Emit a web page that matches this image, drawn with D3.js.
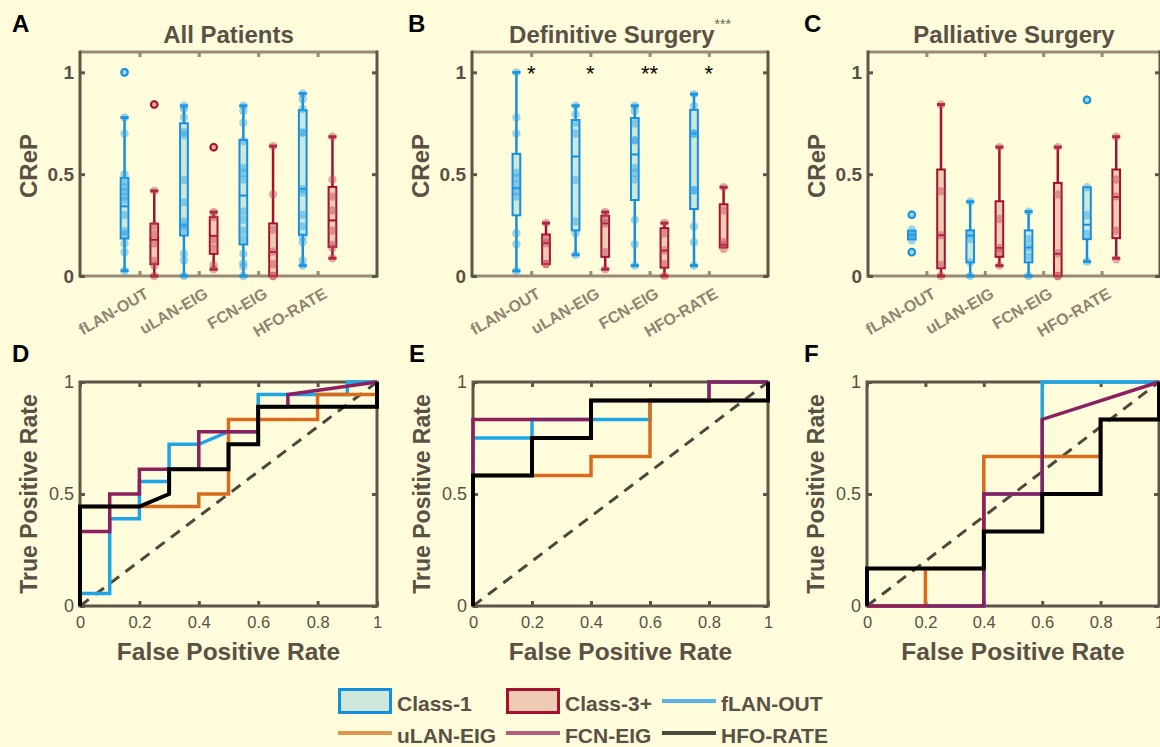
<!DOCTYPE html>
<html><head><meta charset="utf-8">
<script src="https://cdn.jsdelivr.net/npm/d3@7"></script>
<style>html,body{margin:0;padding:0;background:#fffcdb;} svg{display:block;}</style>
</head><body>
<svg id="fig" width="1160" height="747"></svg>
<script>
// ---------------- DATA ----------------
const categories = ["fLAN-OUT", "uLAN-EIG", "FCN-EIG", "HFO-RATE"];
const classes = ["Class-1", "Class-3+"];
const yTicksBox = [0, 0.5, 1];
const rocTicksX = [0, 0.2, 0.4, 0.6, 0.8, 1];
const rocTicksY = [0, 0.5, 1];

// box stats per category: [lower whisker, q1, median, q3, upper whisker]
// Panel A - All Patients
const statsA1 = [[0.026,0.184,0.342,0.482,0.778],[0,0.199,0.248,0.75,0.836],[0,0.155,0.395,0.668,0.836],[0.051,0.202,0.428,0.814,0.896]];
const statsA3 = [[0,0.058,0.178,0.257,0.418],[0.033,0.109,0.197,0.289,0.314],[0,0,0.118,0.258,0.638],[0.087,0.143,0.273,0.4375,0.684]];
const ptsA1 = [[1.0,0.778,0.70,0.50,0.465,0.436,0.416,0.39,0.37,0.30,0.22,0.205,0.16,0.117,0.026],
               [0.836,0.82,0.778,0.707,0.692,0.472,0.362,0.268,0.248,0.227,0.109,0.076,0],
               [0.836,0.81,0.753,0.663,0.531,0.507,0.474,0.317,0.276,0.222,0.181,0.109,0.063,0.046,0],
               [0.896,0.868,0.82,0.704,0.704,0.428,0.411,0.30,0.243,0.191,0.166,0.076,0.051]];
const ptsA3 = [[0.842,0.418,0.248,0.205,0.16,0.074,0.05,0],
               [0.632,0.314,0.289,0.18,0.137,0.054,0.033],
               [0.638,0.401,0.227,0.12,0.058,0,0],
               [0.684,0.474,0.39,0.322,0.222,0.153,0.137,0.087]];
const outA1 = [[1.0],[],[],[]];
const outA3 = [[0.842],[0.632],[],[]];

// Panel B - Definitive Surgery
const statsB1 = [[0.025,0.298,0.431,0.60,1.0],[0.104,0.224,0.587,0.766,0.836],[0.051,0.373,0.597,0.776,0.836],[0.051,0.329,0.70,0.816,0.893]];
const statsB3 = [[0.059,0.059,0.161,0.204,0.26],[0.033,0.094,0.258,0.296,0.314],[0,0.041,0.125,0.235,0.26],[0.14,0.14,0.153,0.352,0.436]];
const ptsB1 = [[1.0,0.778,0.70,0.507,0.482,0.447,0.416,0.39,0.21,0.156,0.025],
               [0.836,0.794,0.753,0.70,0.472,0.268,0.21,0.104],
               [0.836,0.81,0.75,0.666,0.666,0.531,0.507,0.474,0.276,0.156,0.051],
               [0.893,0.836,0.70,0.70,0.421,0.421,0.243,0.166,0.051]];
const ptsB3 = [[0.26,0.183,0.161,0.059,0.059],
               [0.314,0.285,0.258,0.118,0.033],
               [0.26,0.21,0.125,0.058,0],
               [0.436,0.322,0.166,0.153,0.132]];
const outB1 = [[],[],[],[]];
const outB3 = [[],[],[],[]];
const starsB = ["*", "*", "**", "*"];
const titleStarsB = "***";

// Panel C - Palliative Surgery
const statsC1 = [[0.180,0.180,0.201,0.222,0.222],[0,0.067,0.199,0.224,0.365],[0,0.067,0.14,0.224,0.316],[0.071,0.181,0.252,0.436,0.436]];
const statsC3 = [[0,0.038,0.20,0.523,0.842],[0.051,0.094,0.138,0.367,0.633],[0,0,0.109,0.457,0.633],[0.087,0.186,0.388,0.523,0.684]];
const ptsC1 = [[0.301,0.228,0.21,0.195,0.175,0.117],
               [0.365,0.21,0.181,0.067,0],
               [0.316,0.181,0.14,0.095,0],
               [0.865,0.436,0.298,0.206,0.071]];
const ptsC3 = [[0.842,0.416,0.2,0.054,0],
               [0.633,0.28,0.138,0.117,0.051],
               [0.633,0.40,0.112,0,0],
               [0.684,0.474,0.391,0.222,0.082]];
const outC1 = [[0.301,0.117],[],[],[0.865]];
const outC3 = [[],[],[],[]];

// ROC curves [FPR, TPR]
const rocD_fLAN = [[0,0],[0,0.056],[0.1,0.056],[0.1,0.389],[0.2,0.389],[0.2,0.556],[0.3,0.556],[0.3,0.722],[0.4,0.722],[0.5,0.778],[0.6,0.778],[0.6,0.944],[0.9,0.944],[0.9,1],[1,1]];
const rocD_uLAN = [[0,0],[0,0.444],[0.4,0.444],[0.4,0.5],[0.5,0.5],[0.5,0.833],[0.8,0.833],[0.8,0.944],[1,0.944],[1,1]];
const rocD_FCN  = [[0,0],[0,0.333],[0.1,0.333],[0.1,0.5],[0.2,0.5],[0.2,0.611],[0.4,0.611],[0.4,0.778],[0.6,0.778],[0.6,0.889],[0.7,0.889],[0.7,0.944],[1,1]];
const rocD_HFO  = [[0,0],[0,0.444],[0.2,0.444],[0.3,0.5],[0.3,0.611],[0.5,0.611],[0.5,0.722],[0.6,0.722],[0.6,0.889],[1,0.889],[1,1]];

const rocE_fLAN = [[0,0],[0,0.75],[0.2,0.75],[0.2,0.833],[0.6,0.833],[0.6,0.917],[0.8,0.917],[0.8,1],[1,1]];
const rocE_uLAN = [[0,0],[0,0.583],[0.4,0.583],[0.4,0.667],[0.6,0.667],[0.6,0.917],[1,0.917],[1,1]];
const rocE_FCN  = [[0,0],[0,0.833],[0.4,0.833],[0.4,0.917],[0.8,0.917],[0.8,1],[1,1]];
const rocE_HFO  = [[0,0],[0,0.583],[0.2,0.583],[0.2,0.75],[0.4,0.75],[0.4,0.917],[1,0.917],[1,1]];

const rocF_fLAN = [[0,0],[0.4,0],[0.4,0.5],[0.6,0.5],[0.6,1],[1,1]];
const rocF_uLAN = [[0,0],[0.2,0],[0.2,0.167],[0.4,0.167],[0.4,0.667],[0.8,0.667],[0.8,0.833],[1,0.833],[1,1]];
const rocF_FCN  = [[0,0],[0.4,0],[0.4,0.5],[0.6,0.5],[0.6,0.833],[1,1]];
const rocF_HFO  = [[0,0],[0,0.167],[0.4,0.167],[0.4,0.333],[0.6,0.333],[0.6,0.5],[0.8,0.5],[0.8,0.833],[1,0.833],[1,1]];

// ---------------- STYLE ----------------
const FONT = "'Liberation Sans', Arial, Helvetica, sans-serif";
const BG = "#fffcdb";
const TXT = "#5a5045";
const XCOL = "#978b77";
const YCOL = "#5e5448";
const C1 = {edge: "#128fdd", fill: "#cde7da", pt: "#2d9fe6"};
const C3 = {edge: "#a3112d", fill: "#edcbb5", pt: "#c2485c"};
const rocColors = ["#1ea5e6", "#d96c1c", "#8c1f5e", "#000000"];
const legendLineColors = ["#5ab4e5", "#e0964c", "#b0607e", "#4b4a3c"];

const svg = d3.select("#fig").style("font-family", FONT);
svg.append("rect").attr("width", 1160).attr("height", 747).attr("fill", BG);

function letter(ch, x, y) {
  svg.append("text").attr("x", x).attr("y", y).text(ch)
    .attr("font-size", 24).attr("font-weight", "bold").attr("fill", "#000");
}

// ---------------- BOX PANELS ----------------
const boxPanels = [
  {letter: "A", lx: 12, title: "All Patients", x0: 80, x1: 377, s1: statsA1, s3: statsA3, p1: ptsA1, p3: ptsA3, o1: outA1, o3: outA3},
  {letter: "B", lx: 408, title: "Definitive Surgery", sup: titleStarsB, stars: starsB, x0: 472, x1: 768, s1: statsB1, s3: statsB3, p1: ptsB1, p3: ptsB3, o1: outB1, o3: outB3},
  {letter: "C", lx: 804, title: "Palliative Surgery", x0: 868, x1: 1160, s1: statsC1, s3: statsC3, p1: ptsC1, p3: ptsC3, o1: outC1, o3: outC3}
];

function drawBoxPanel(p) {
  const x = d3.scaleLinear().domain([0, 5]).range([p.x0, p.x1]);
  const y = d3.scaleLinear().domain([0, 1.1]).range([276, 52]);
  const g = svg.append("g");
  // frame
  g.append("line").attr("x1", p.x0).attr("x2", p.x1).attr("y1", y(1.1)).attr("y2", y(1.1)).attr("stroke", XCOL).attr("stroke-width", 3);
  g.append("line").attr("x1", p.x0).attr("x2", p.x1).attr("y1", y(0)).attr("y2", y(0)).attr("stroke", XCOL).attr("stroke-width", 3);
  g.append("line").attr("x1", p.x0).attr("x2", p.x0).attr("y1", y(1.1) - 1.5).attr("y2", y(0) + 1.5).attr("stroke", YCOL).attr("stroke-width", 3);
  g.append("line").attr("x1", p.x1).attr("x2", p.x1).attr("y1", y(1.1) - 1.5).attr("y2", y(0) + 1.5).attr("stroke", YCOL).attr("stroke-width", 3);

  const ax = g.append("g").attr("transform", `translate(${p.x0},0)`)
    .call(d3.axisLeft(y).tickValues(yTicksBox).tickSize(-5).tickPadding(6).tickFormat(d3.format("~g")));
  ax.select(".domain").remove();
  ax.selectAll("line").attr("stroke", YCOL).attr("stroke-width", 3);
  ax.selectAll("text").attr("font-size", 19).attr("font-weight", "bold").attr("fill", TXT).attr("font-family", FONT);

  const axr = g.append("g").attr("transform", `translate(${p.x1},0)`)
    .call(d3.axisRight(y).tickValues(yTicksBox).tickSize(-5).tickFormat(""));
  axr.select(".domain").remove();
  axr.selectAll("line").attr("stroke", YCOL).attr("stroke-width", 3);

  const axt = g.append("g").attr("transform", `translate(0,${y(1.1)})`)
    .call(d3.axisTop(x).tickValues([1, 2, 3, 4]).tickSize(-5).tickFormat(""));
  axt.select(".domain").remove();
  axt.selectAll("line").attr("stroke", XCOL).attr("stroke-width", 3);

  const axb = g.append("g").attr("transform", `translate(0,${y(0)})`)
    .call(d3.axisBottom(x).tickValues([1, 2, 3, 4]).tickSize(-5).tickFormat((d) => categories[d - 1]));
  axb.select(".domain").remove();
  axb.selectAll("line").attr("stroke", XCOL).attr("stroke-width", 3);
  axb.selectAll("text").attr("y", 0).attr("dy", "0.35em")
    .attr("text-anchor", "end").attr("transform", "translate(7,16) rotate(-30)")
    .attr("font-size", 16).attr("font-weight", "bold").attr("fill", "#8f8472").attr("font-family", FONT);

  // boxes
  const hw = (x(0.13) - x(0));
  const drawSet = (stats, pts, outs, col, off) => {
    stats.forEach((s, i) => {
      const cx = x(i + 1 + off);
      const [lo, q1, med, q3, hi] = s;
      g.append("line").attr("x1", cx).attr("x2", cx).attr("y1", y(q3)).attr("y2", y(hi)).attr("stroke", col.edge).attr("stroke-width", 2.5);
      g.append("line").attr("x1", cx).attr("x2", cx).attr("y1", y(q1)).attr("y2", y(lo)).attr("stroke", col.edge).attr("stroke-width", 2.5);
      if (hi > q3) g.append("line").attr("x1", cx - 4).attr("x2", cx + 4).attr("y1", y(hi)).attr("y2", y(hi)).attr("stroke", col.edge).attr("stroke-width", 3);
      if (lo < q1) g.append("line").attr("x1", cx - 4).attr("x2", cx + 4).attr("y1", y(lo)).attr("y2", y(lo)).attr("stroke", col.edge).attr("stroke-width", 3);
      g.append("rect").attr("x", cx - hw / 2).attr("width", hw).attr("y", y(q3)).attr("height", Math.max(0.5, y(q1) - y(q3)))
        .attr("fill", col.fill).attr("stroke", col.edge).attr("stroke-width", 2);
      g.append("line").attr("x1", cx - hw / 2).attr("x2", cx + hw / 2).attr("y1", y(med)).attr("y2", y(med)).attr("stroke", col.edge).attr("stroke-width", 2);
      g.selectAll(null).data(pts[i]).enter().append("circle")
        .attr("cx", cx).attr("cy", (d) => y(d)).attr("r", 4.2)
        .attr("fill", col.pt).attr("fill-opacity", 0.45);
      g.selectAll(null).data(outs[i]).enter().append("circle")
        .attr("cx", cx).attr("cy", (d) => y(d)).attr("r", 3.3)
        .attr("fill", "none").attr("stroke", col.edge).attr("stroke-width", 2);
    });
  };
  drawSet(p.s1, p.p1, p.o1, C1, -0.25);
  drawSet(p.s3, p.p3, p.o3, C3, 0.25);

  if (p.stars) {
    p.stars.forEach((s, i) => {
      g.append("text").attr("x", x(i + 1)).attr("y", 81).attr("text-anchor", "middle")
        .attr("font-size", 22).attr("fill", "#000").text(s);
    });
  }

  // title
  const cx = (p.x0 + p.x1) / 2;
  const t = svg.append("text").attr("x", cx).attr("y", 43).attr("text-anchor", "middle")
    .attr("font-size", 24).attr("font-weight", "bold").attr("fill", TXT).text(p.title);
  if (p.sup) t.append("tspan").attr("dy", -14).attr("font-size", 14).attr("font-weight", "normal").attr("fill", "#6e6458").text(p.sup);

  svg.append("text").attr("transform", `translate(${p.x0 - 43},166) rotate(-90)`).attr("text-anchor", "middle")
    .attr("font-size", 24).attr("font-weight", "bold").attr("fill", TXT).text("CReP");
  letter(p.letter, p.lx, 32);
}
boxPanels.forEach(drawBoxPanel);

// ---------------- ROC PANELS ----------------
const rocPanels = [
  {letter: "D", lx: 12, x0: 80, x1: 377, curves: [rocD_fLAN, rocD_uLAN, rocD_FCN, rocD_HFO]},
  {letter: "E", lx: 409, x0: 473, x1: 768, curves: [rocE_fLAN, rocE_uLAN, rocE_FCN, rocE_HFO]},
  {letter: "F", lx: 804, x0: 867, x1: 1159, curves: [rocF_fLAN, rocF_uLAN, rocF_FCN, rocF_HFO]}
];

function drawRocPanel(p) {
  const x = d3.scaleLinear().domain([0, 1]).range([p.x0, p.x1]);
  const y = d3.scaleLinear().domain([0, 1]).range([606, 382]);
  const g = svg.append("g");
  g.append("rect").attr("x", p.x0).attr("y", y(1)).attr("width", p.x1 - p.x0).attr("height", y(0) - y(1))
    .attr("fill", "none").attr("stroke", YCOL).attr("stroke-width", 3);

  const al = g.append("g").attr("transform", `translate(${p.x0},0)`)
    .call(d3.axisLeft(y).tickValues(rocTicksY).tickSize(-5).tickPadding(6).tickFormat(d3.format("~g")));
  al.select(".domain").remove();
  al.selectAll("line").attr("stroke", YCOL).attr("stroke-width", 3);
  al.selectAll("text").attr("font-size", 18).attr("fill", TXT).attr("font-family", FONT);

  const ar = g.append("g").attr("transform", `translate(${p.x1},0)`)
    .call(d3.axisRight(y).tickValues(rocTicksY).tickSize(-5).tickFormat(""));
  ar.select(".domain").remove();
  ar.selectAll("line").attr("stroke", YCOL).attr("stroke-width", 3);

  const ab = g.append("g").attr("transform", `translate(0,${y(0)})`)
    .call(d3.axisBottom(x).tickValues(rocTicksX).tickSize(-5).tickPadding(10).tickFormat(d3.format("~g")));
  ab.select(".domain").remove();
  ab.selectAll("line").attr("stroke", YCOL).attr("stroke-width", 3);
  ab.selectAll("text").attr("font-size", 16.5).attr("fill", TXT).attr("font-family", FONT);

  const at = g.append("g").attr("transform", `translate(0,${y(1)})`)
    .call(d3.axisTop(x).tickValues(rocTicksX).tickSize(-5).tickFormat(""));
  at.select(".domain").remove();
  at.selectAll("line").attr("stroke", YCOL).attr("stroke-width", 3);

  g.append("line").attr("x1", x(0)).attr("y1", y(0)).attr("x2", x(1)).attr("y2", y(1))
    .attr("stroke", "#4f473d").attr("stroke-width", 3).attr("stroke-dasharray", "11,8");

  const line = d3.line().x((d) => x(d[0])).y((d) => y(d[1]));
  p.curves.forEach((c, i) => {
    g.append("path").attr("d", line(c)).attr("fill", "none").attr("stroke", rocColors[i])
      .attr("stroke-width", i === 3 ? 4 : 3.5).attr("stroke-linejoin", "miter");
  });

  svg.append("text").attr("transform", `translate(${p.x0 - 43},494) rotate(-90)`).attr("text-anchor", "middle")
    .attr("font-size", 23).attr("font-weight", "bold").attr("fill", TXT).text("True Positive Rate");
  svg.append("text").attr("x", (p.x0 + p.x1) / 2).attr("y", 660).attr("text-anchor", "middle")
    .attr("font-size", 24.5).attr("font-weight", "bold").attr("fill", TXT).text("False Positive Rate");
  letter(p.letter, p.lx, 362);
}
rocPanels.forEach(drawRocPanel);

// ---------------- LEGEND ----------------
const lg = svg.append("g").attr("font-size", 21).attr("font-weight", "bold").attr("fill", TXT);
const colsX = [338, 506, 662];
const legendItems = [
  {type: "patch", label: classes[0], col: C1, row: 0, c: 0},
  {type: "patch", label: classes[1], col: C3, row: 0, c: 1},
  {type: "line", label: categories[0], color: legendLineColors[0], row: 0, c: 2},
  {type: "line", label: categories[1], color: legendLineColors[1], row: 1, c: 0},
  {type: "line", label: categories[2], color: legendLineColors[2], row: 1, c: 1},
  {type: "line", label: categories[3], color: legendLineColors[3], row: 1, c: 2}
];
legendItems.forEach((it) => {
  const x0 = colsX[it.c];
  const yc = it.row === 0 ? 701 : 733;
  if (it.type === "patch") {
    lg.append("rect").attr("x", x0 + 1.5).attr("y", yc - 11.5).attr("width", 51).attr("height", 23)
      .attr("fill", it.col.fill).attr("stroke", it.col.edge).attr("stroke-width", 3);
  } else {
    lg.append("line").attr("x1", x0).attr("x2", x0 + 54).attr("y1", yc).attr("y2", yc)
      .attr("stroke", it.color).attr("stroke-width", 4);
  }
  lg.append("text").attr("x", x0 + 59).attr("y", yc + 10).text(it.label);
});
</script>
</body></html>
